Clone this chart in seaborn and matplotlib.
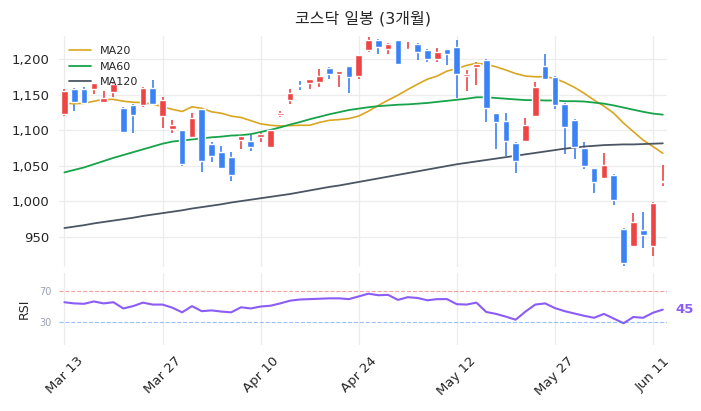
import numpy as np
import pandas as pd
import matplotlib
matplotlib.use("Agg")
import matplotlib.pyplot as plt
from matplotlib.ticker import FuncFormatter
import seaborn as sns

# KOSDAQ daily candles, last 3 months
opens = [1123, 1158, 1158, 1158, 1140, 1154, 1132, 1136, 1135, 1160,
         1120, 1102, 1100, 1091, 1130, 1080, 1069, 1062, 1086, 1085,
         1090, 1076, 1121, 1142, 1164, 1167, 1168, 1188, 1179, 1190,
         1177, 1213, 1228, 1215, 1227, 1213, 1222, 1213, 1200, 1214,
         1217, 1177, 1189, 1199, 1124, 1113, 1082, 1085, 1120, 1191,
         1175, 1137, 1115, 1075, 1046, 1033, 1037, 961, 937, 959,
         937, 1027]
highs = [1158, 1159, 1161, 1166, 1155, 1167, 1133, 1137, 1161, 1171,
         1147, 1115, 1101, 1124, 1132, 1084, 1078, 1069, 1092, 1093,
         1098, 1102, 1127, 1158, 1169, 1172, 1187, 1189, 1184, 1191,
         1206, 1231, 1229, 1223, 1228, 1224, 1223, 1214, 1216, 1215,
         1227, 1185, 1196, 1200, 1125, 1124, 1083, 1117, 1168, 1207,
         1176, 1138, 1116, 1084, 1047, 1068, 1038, 962, 983, 984,
         999, 1051]
lows = [1120, 1127, 1137, 1151, 1139, 1147, 1097, 1096, 1133, 1136,
        1103, 1096, 1050, 1090, 1041, 1055, 1046, 1028, 1073, 1070,
        1084, 1075, 1119, 1137, 1157, 1158, 1161, 1173, 1161, 1153,
        1173, 1211, 1208, 1207, 1192, 1213, 1199, 1197, 1197, 1192,
        1145, 1155, 1164, 1111, 1073, 1064, 1039, 1085, 1120, 1171,
        1130, 1067, 1060, 1045, 1011, 1033, 995, 909, 937, 934,
        922, 1022]
closes = [1155, 1140, 1138, 1166, 1145, 1165, 1098, 1122, 1160, 1137,
          1143, 1108, 1053, 1117, 1057, 1064, 1047, 1037, 1092, 1077,
          1094, 1101, 1124, 1153, 1163, 1172, 1176, 1180, 1183, 1175,
          1206, 1228, 1217, 1222, 1193, 1215, 1211, 1200, 1210, 1208,
          1180, 1179, 1193, 1131, 1112, 1085, 1057, 1107, 1161, 1173,
          1135, 1105, 1076, 1050, 1027, 1051, 1002, 912, 970, 952,
          998, 1029]

ma20 = [1138, 1137.5, 1138, 1141, 1143.5, 1143.5, 1141, 1139.5, 1139, 1137,
        1133, 1129.5, 1126.5, 1133, 1131, 1126, 1124, 1120, 1118, 1113.5,
        1109, 1107, 1106, 1106.5, 1107, 1107, 1111, 1114, 1115, 1116.5,
        1120, 1127, 1135, 1142.5, 1149.5, 1157.5, 1165, 1172, 1176.5, 1183.5,
        1187, 1191.5, 1194.5, 1193, 1189.5, 1185, 1180, 1176.5, 1175.5, 1175.5,
        1173, 1167.5, 1160.5, 1152, 1142.5, 1134, 1124, 1110, 1098, 1086,
        1077, 1067.5]
ma60 = [1040.5, 1044, 1047.5, 1052, 1056.5, 1061, 1065, 1069, 1073, 1077,
        1081, 1084, 1085.5, 1087, 1088.5, 1090, 1091, 1092.5, 1093, 1094.5,
        1097.5, 1100.5, 1104, 1108, 1111.5, 1115.5, 1119, 1122.5, 1125.5, 1128.5,
        1130.5, 1132.5, 1134, 1135, 1136, 1136.5, 1137.5, 1138.5, 1140, 1141.5,
        1143, 1144.5, 1146.5, 1146.5, 1145.5, 1144.5, 1143.5, 1142.5, 1142.5, 1142,
        1142, 1141, 1141, 1140.5, 1139, 1137.5, 1135, 1132, 1129, 1126,
        1123.5, 1122]
ma120 = [962, 964, 966, 968.5, 970.5, 972.5, 974.5, 976.5, 979, 981,
         983, 985, 987, 989.5, 991.5, 993.5, 995.5, 998, 1000, 1002,
         1004, 1006, 1008, 1010, 1012.5, 1015, 1017.5, 1020, 1022, 1024.5,
         1027, 1029.5, 1032, 1034.5, 1037, 1039.5, 1042, 1044.5, 1047, 1049.5,
         1052, 1054, 1056, 1058, 1060, 1062, 1064, 1066, 1068, 1070,
         1072, 1074, 1075.5, 1077, 1078, 1079, 1079.5, 1080, 1080, 1080.5,
         1081, 1081.5]
rsi = [55, 53.5, 53, 56, 53.5, 55, 47, 50, 54.5, 52,
       52, 48, 42, 50, 43.5, 44.5, 43, 42, 48.5, 47,
       49.5, 50.5, 53.5, 57, 58.5, 59, 59.5, 60, 60, 59,
       62.5, 66, 64, 64.5, 58, 61.5, 60.5, 57.5, 59, 59,
       52.5, 52, 54.5, 42.5, 40, 36.5, 32.5, 43, 52, 53.5,
       47.5, 43.5, 40.5, 37.5, 35, 40, 34, 28, 36, 35,
       41.5, 45.5]

tick_labels = ["Mar 13", "Mar 27", "Apr 10", "Apr 24", "May 12", "May 27", "Jun 11"]
tick_step = 10

df = pd.DataFrame({"open": opens, "high": highs, "low": lows, "close": closes,
                   "MA20": ma20, "MA60": ma60, "MA120": ma120, "RSI": rsi})
df["idx"] = np.arange(len(df))

UP = "#ef4444"
DOWN = "#3b82f6"

sns.set_theme(style="whitegrid", rc={"grid.color": "#ececec", "grid.linewidth": 0.9})
plt.rcParams["font.family"] = ["DejaVu Sans", "Noto Sans CJK KR"]

fig = plt.figure(figsize=(7.01, 4.11), dpi=100)
ax = fig.add_axes([0.0835, 0.3504, 0.8676, 0.562])
ax_rsi = fig.add_axes([0.0835, 0.1606, 0.8676, 0.1759], sharex=ax)

# candles
up = df["close"] >= df["open"]
colors = np.where(up, UP, DOWN)
body_lo = df[["open", "close"]].min(axis=1)
body_h = (df["close"] - df["open"]).abs().clip(lower=1.3)
ax.vlines(df["idx"], df["low"], df["high"], colors=colors, lw=1.2, zorder=2)
ax.bar(df["idx"], body_h, bottom=body_lo, width=0.68, color=colors, zorder=3)

# moving averages
sns.lineplot(data=df, x="idx", y="MA20", ax=ax, color="#daa520", lw=1.2, label="MA20")
sns.lineplot(data=df, x="idx", y="MA60", ax=ax, color="#16a34a", lw=1.3, label="MA60")
sns.lineplot(data=df, x="idx", y="MA120", ax=ax, color="#4b5563", lw=1.3, label="MA120")
ax.legend(loc="upper left", frameon=False, fontsize=8)

ax.set_ylim(907, 1233)
ax.set_yticks(range(950, 1201, 50))
ax.yaxis.set_major_formatter(FuncFormatter(lambda v, p: f"{v:,.0f}"))
ax.tick_params(axis="y", length=3.5, color="#333333", labelsize=9.5, pad=3)
ax.tick_params(axis="x", length=0, labelbottom=False)
ax.set_xlabel("")
ax.set_ylabel("")
ax.set_title("코스닥 일봉 (3개월)", fontsize=11.5, pad=9)

# RSI panel
sns.lineplot(data=df, x="idx", y="RSI", ax=ax_rsi, color="#8b5cf6", lw=1.5)
ax_rsi.axhline(70, color=UP, ls="--", lw=0.8, alpha=0.5)
ax_rsi.axhline(30, color=DOWN, ls="--", lw=0.8, alpha=0.5)
last = df.iloc[-1]
ax_rsi.annotate(f"{int(last['RSI'])}", (last["idx"], last["RSI"]), xytext=(9, 0),
                textcoords="offset points", ha="left", va="center",
                color="#8b5cf6", fontsize=9.5, fontweight="bold", annotation_clip=False)
ax_rsi.set_ylim(0, 93)
ax_rsi.set_yticks([30, 70])
ax_rsi.grid(axis="y", visible=False)
ax_rsi.tick_params(axis="y", length=3, color="#9ca3af", labelcolor="#9ca3af", labelsize=7, pad=2)
ax_rsi.set_ylabel("RSI", fontsize=9, labelpad=6)
ax_rsi.set_xlabel("")

ax_rsi.set_xlim(-0.6, 61.4)
ax_rsi.set_xticks(range(0, len(df), tick_step))
ax_rsi.set_xticklabels(tick_labels, rotation=45)
ax_rsi.tick_params(axis="x", length=4, color="#222222", labelsize=9.5, pad=3)

for a in (ax, ax_rsi):
    for s in a.spines.values():
        s.set_visible(False)

fig.savefig("out.png", dpi=100)
